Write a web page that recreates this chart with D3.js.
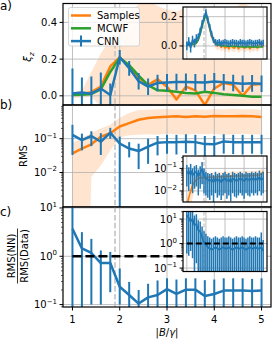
<!DOCTYPE html>
<html><head><meta charset="utf-8">
<script src="https://cdn.jsdelivr.net/npm/d3@7"></script>
<style>body{margin:0;background:#fff}svg{display:block;font-family:"DejaVu Sans",sans-serif}</style>
</head><body>
<svg width="272" height="339"></svg>
<script>
// ---------------- data ----------------
const xs = [1,1.2,1.4,1.6,1.8,2,2.2,2.4,2.6,2.8,3,3.2,3.4,3.6,3.8,4,4.2,4.4,4.6,4.8,5];
const xTicks = [1,2,3,4,5];
const xTickLabels = ["1","2","3","4","5"];
const markX = 1.9;
const legendLabels = ["Samples","MCWF","CNN"];

// panel a  (xi_z)
const aSamples   = [0.005,0.01,0.02,0.05,0.16,0.21,0.16,0.10,0.06,0.09,0.05,-0.02,0.05,0.03,-0.05,0.04,0.07,0.06,0.00,0.06,0.065];
const aSamplesLo = [-0.01,-0.01,-0.005,-0.06,-0.15,-0.2,-0.25,-0.3,-0.35,-0.3,-0.35,-0.4,-0.35,-0.4,-0.45,-0.35,-0.3,-0.35,-0.4,-0.35,-0.3];
const aSamplesHi = [0.02,0.03,0.13,0.23,0.31,0.38,0.44,0.5,0.52,0.49,0.47,0.46,0.48,0.46,0.49,0.47,0.45,0.47,0.51,0.48,0.46];
const aMcwf      = [0.004,0.006,0.01,0.035,0.13,0.208,0.167,0.11,0.058,0.03,0.027,0.022,0.016,0.013,0.022,0.016,0.008,0.004,0.0,-0.005,-0.005];
const aCnn       = [0.013,0.018,0.012,0.04,0.004,0.21,0.15,0.08,0.05,0.07,0.073,0.075,0.075,0.074,0.072,0.078,0.074,0.07,0.066,0.068,0.066];
const aCnnErr    = [0.136,0.082,0.093,0.087,0.063,0.04,0.04,0.045,0.045,0.045,0.046,0.045,0.046,0.045,0.045,0.046,0.045,0.045,0.045,0.046,0.045];
const aTicks = [0, 0.2, 0.4];
const aTickLabels = ["0.0","0.2","0.4"];

// panel b  (RMS)
const bSamples   = [0.037,0.051,0.068,0.115,0.145,0.229,0.288,0.363,0.407,0.427,0.447,0.457,0.437,0.457,0.447,0.468,0.457,0.457,0.468,0.457,0.437];
const bSamplesLo = [1e-12,1e-12,0.0074,0.016,0.045,0.11,0.126,0.13,0.135,0.13,0.14,0.135,0.13,0.14,0.135,0.14,0.13,0.135,0.14,0.135,0.13];
const bSamplesHi = [0.074,0.105,0.148,0.2,0.257,0.417,0.575,0.708,0.72,0.74,0.75,0.73,0.76,0.74,0.72,0.75,0.73,0.76,0.74,0.75,0.72];
const bCnn       = [0.129,0.091,0.120,0.081,0.151,0.072,0.051,0.043,0.058,0.076,0.079,0.079,0.081,0.079,0.069,0.068,0.083,0.079,0.079,0.079,0.079];
const bCnnLo     = [0.033,0.045,0.060,0.033,0.1,1e-5,0.028,0.0126,0.018,0.032,0.036,0.034,0.037,0.033,0.030,0.031,0.036,0.035,0.034,0.036,0.035];
const bCnnHi     = [0.257,0.141,0.166,0.145,0.209,0.115,0.079,0.071,0.1,0.12,0.13,0.13,0.135,0.13,0.12,0.12,0.135,0.13,0.13,0.13,0.13];
const bTickExp = [-1,-2];

// panel c  (RMS(NN)/RMS(Data))
const cCnn   = [3.72,1.45,1.17,0.724,0.724,0.234,0.158,0.105,0.141,0.158,0.209,0.166,0.204,0.204,0.151,0.166,0.195,0.195,0.195,0.191,0.195];
const cCnnLo = [0.01,0.01,0.1,0.1,0.18,0.1,0.01,0.01,0.01,0.01,0.01,0.01,0.01,0.01,0.01,0.01,0.01,0.01,0.01,0.01,0.01];
const cCnnHi = [15,3.16,2.29,1.32,1.23,0.56,0.295,0.2,0.27,0.316,0.35,0.33,0.35,0.35,0.32,0.33,0.35,0.35,0.35,0.34,0.35];
const cRef = 1;
const cTickExp = [1,0,-1];

// insets (finer grid)
const insX = [1.0,1.1,1.2,1.3,1.4,1.5,1.6,1.7,1.8,1.9,2.0,2.1,2.2,2.3,2.4,2.5,2.6,2.7,2.8,2.9,3.0,3.1,3.2,3.3,3.4,3.5,3.6,3.7,3.8,3.9,4.0,4.1,4.2,4.3,4.4,4.5,4.6,4.7,4.8,4.9,5.0];
const iaCnn = [0.00,0.03,-0.01,0.04,0.02,0.05,0.06,0.10,0.15,0.19,0.23,0.18,0.13,0.08,0.04,0.025,0.02,0.025,0.015,0.02,0.025,0.02,0.015,0.02,0.025,0.02,0.02,0.015,0.025,0.02,0.02,0.015,0.02,0.025,0.02,0.015,0.02,0.02,0.025,0.015,0.02];
const iaCnnErr = [0.03,0.03,0.035,0.03,0.03,0.03,0.025,0.025,0.025,0.02,0.02,0.02,0.02,0.02,0.02,0.022,0.022,0.022,0.022,0.022,0.022,0.022,0.022,0.022,0.022,0.022,0.022,0.022,0.022,0.022,0.022,0.022,0.022,0.022,0.022,0.022,0.022,0.022,0.022,0.022,0.022];
const iaMcwf = [0.005,0.006,0.008,0.01,0.013,0.02,0.04,0.08,0.13,0.18,0.21,0.17,0.12,0.07,0.04,0.02,0.01,0.005,0.003,0.002,0.0,-0.002,-0.003,0.0,-0.002,-0.004,-0.003,-0.005,-0.004,-0.006,-0.005,-0.006,-0.007,-0.005,-0.006,-0.007,-0.006,-0.008,-0.007,-0.006,-0.007];
const iaSamples = [0.006,0.004,0.01,0.012,0.01,0.022,0.045,0.085,0.14,0.19,0.215,0.17,0.115,0.065,0.035,0.015,0.0,0.01,-0.01,0.005,-0.015,0.0,-0.02,0.005,-0.01,-0.015,0.01,-0.02,-0.005,0.0,-0.015,-0.01,0.005,-0.02,-0.005,-0.01,0.0,-0.015,0.005,0.02,-0.01];
const iaSamplesHi = [0.02,0.02,0.025,0.03,0.03,0.04,0.065,0.11,0.165,0.215,0.24,0.2,0.145,0.095,0.065,0.045,0.03,0.04,0.025,0.035,0.02,0.03,0.02,0.035,0.025,0.02,0.04,0.02,0.03,0.035,0.02,0.025,0.035,0.02,0.03,0.025,0.035,0.02,0.04,0.05,0.03];
const iaSamplesLo = [-0.01,-0.012,-0.008,-0.006,-0.01,0.0,0.025,0.06,0.115,0.165,0.19,0.14,0.09,0.035,0.005,-0.015,-0.03,-0.02,-0.04,-0.025,-0.045,-0.03,-0.05,-0.025,-0.04,-0.045,-0.02,-0.05,-0.035,-0.03,-0.045,-0.04,-0.025,-0.05,-0.035,-0.04,-0.03,-0.045,-0.025,-0.01,-0.04];
const iaTicks = [0, 0.2];
const iaTickLabels = ["0.0","0.2"];

// inset b, stored as log10 values
const ibCnnLog10 = [-1.15,-1.25,-1.1,-1.3,-1.2,-1.15,-1.35,-1.2,-1.05,-1.3,-1.45,-1.5,-1.55,-1.5,-1.6,-1.45,-1.55,-1.5,-1.6,-1.5,-1.45,-1.55,-1.5,-1.6,-1.45,-1.5,-1.55,-1.5,-1.45,-1.5,-1.55,-1.45,-1.5,-1.5,-1.45,-1.5,-1.45,-1.5,-1.4,-1.5,-1.45];
const ibCnnHiLog10 = [-0.85,-0.95,-0.8,-1.0,-0.9,-0.85,-1.05,-0.9,-0.72,-1.0,-1.15,-1.2,-1.25,-1.2,-1.3,-1.15,-1.25,-1.2,-1.3,-1.2,-1.15,-1.25,-1.2,-1.3,-1.15,-1.2,-1.25,-1.2,-1.15,-1.2,-1.25,-1.15,-1.2,-1.2,-1.15,-1.2,-1.15,-1.2,-1.1,-1.2,-1.15];
const ibCnnLoLog10 = [-1.8,-2.0,-1.7,-2.1,-1.9,-1.8,-2.2,-1.9,-1.7,-2.1,-2.2,-2.3,-2.4,-2.2,-2.5,-2.1,-2.3,-2.2,-2.4,-2.2,-2.1,-2.35,-2.2,-2.45,-2.1,-2.25,-2.3,-2.2,-2.1,-2.2,-2.35,-2.1,-2.2,-2.25,-2.1,-2.2,-2.1,-2.2,-2.0,-2.2,-2.1];
const ibSamplesLog10 = [-2.7,-2.3,-2.0,-1.75,-1.6,-1.5,-1.45,-1.42,-1.4,-1.42,-1.4,-1.4,-1.38,-1.4,-1.38,-1.37,-1.38,-1.36,-1.37,-1.35,-1.36,-1.35,-1.36,-1.34,-1.35,-1.33,-1.35,-1.33,-1.34,-1.32,-1.33,-1.32,-1.33,-1.31,-1.32,-1.3,-1.31,-1.3,-1.28,-1.25,-1.15];
const ibSamplesHiLog10 = [-2.3,-1.95,-1.7,-1.5,-1.38,-1.3,-1.25,-1.22,-1.2,-1.22,-1.2,-1.2,-1.18,-1.2,-1.18,-1.17,-1.18,-1.16,-1.17,-1.15,-1.16,-1.15,-1.16,-1.14,-1.15,-1.13,-1.15,-1.13,-1.14,-1.12,-1.13,-1.12,-1.13,-1.11,-1.12,-1.1,-1.11,-1.1,-1.08,-1.05,-0.95];
const ibSamplesLoLog10 = [-4,-3.5,-3,-2.3,-2.0,-1.85,-1.75,-1.7,-1.68,-1.7,-1.68,-1.68,-1.65,-1.68,-1.65,-1.64,-1.65,-1.63,-1.64,-1.62,-1.63,-1.62,-1.63,-1.61,-1.62,-1.6,-1.62,-1.6,-1.61,-1.59,-1.6,-1.59,-1.6,-1.58,-1.59,-1.57,-1.58,-1.57,-1.55,-1.52,-1.42];
const ibTickExp = [-1,-2];

// inset c, stored as log10 values
const icCnnLog10 = [1.15,1.05,0.9,1.0,0.75,0.8,0.55,0.5,0.25,0.05,-0.05,-0.15,-0.2,-0.25,-0.2,-0.15,-0.2,-0.25,-0.2,-0.15,-0.2,-0.2,-0.15,-0.2,-0.25,-0.2,-0.15,-0.2,-0.2,-0.15,-0.2,-0.25,-0.2,-0.15,-0.2,-0.2,-0.15,-0.2,-0.2,-0.15,-0.3];
const icCnnHiLog10 = [1.5,1.4,1.3,1.35,1.15,1.2,0.95,0.9,0.7,0.5,0.4,0.3,0.25,0.2,0.25,0.3,0.25,0.2,0.25,0.3,0.25,0.25,0.3,0.25,0.2,0.25,0.3,0.25,0.25,0.3,0.25,0.2,0.25,0.3,0.25,0.25,0.3,0.25,0.25,0.45,0.15];
const icCnnLoLog10 = [-0.4,-0.5,-0.3,-0.6,-2,-0.8,-2,-2,-2,-2,-2,-2,-2,-2,-2,-2,-2,-2,-2,-2,-2,-2,-2,-2,-2,-2,-2,-2,-2,-2,-2,-2,-2,-2,-2,-2,-2,-2,-2,-2,-2];
const icRefLog10 = 0;
const icTickExp = [1,0,-1];

// ---------------- drawing ----------------
const C = {blue:"#1f77b4", orange:"#ff7f0e", green:"#2ca02c", grid:"#b0b0b0", mark:"#c0c0c0"};
const svg = d3.select("svg");
svg.append("rect").attr("width",272).attr("height",339).attr("fill","#fff");
const defs = svg.append("defs");
let cid = 0;
function clip(b){
  const id = "cp"+(cid++);
  defs.append("clipPath").attr("id",id).append("rect")
    .attr("x",b.x0).attr("y",b.y0).attr("width",b.x1-b.x0).attr("height",b.y1-b.y0);
  return `url(#${id})`;
}
function supText(t, n){
  t.text("10");
  t.append("tspan").attr("dy",-4.5).attr("font-size",7).text(n<0 ? "\u2212"+(-n) : String(n));
}

const L = 63, R = 271;
const x = d3.scaleLinear().domain([0.8,5.2]).range([L,R]);
const boxA = {x0:L,x1:R,y0:3.5,y1:105};
const boxB = {x0:L,x1:R,y0:105,y1:207};
const boxC = {x0:L,x1:R,y0:207,y1:307};
const yA = d3.scaleLinear().domain([-0.05,0.503]).range([boxA.y1,boxA.y0]);
const yB = d3.scaleLog().domain([Math.pow(10,-3.02),Math.pow(10,-0.005)]).range([boxB.y1,boxB.y0]);
const yC = d3.scaleLog().domain([Math.pow(10,-1.05),Math.pow(10,1.02)]).range([boxC.y1,boxC.y0]);

const xi = d3.scaleLinear().domain([0.8,5.2]).range([183,267]);
const boxIA = {x0:183,x1:267,y0:7,y1:59};
const boxIB = {x0:183,x1:267,y0:156,y1:202};
const boxIC = {x0:183,x1:267,y0:211.5,y1:271.5};
const yIA = d3.scaleLinear().domain([-0.089,0.266]).range([boxIA.y1,boxIA.y0]);
const yIB = d3.scaleLinear().domain([-2.49,-0.45]).range([boxIB.y1,boxIB.y0]);   // log10 units
const yIC = d3.scaleLinear().domain([-1.14,1.31]).range([boxIC.y1,boxIC.y0]);    // log10 units

function panel(o){
  const b = o.box, g = svg.append("g");
  if (o.bg) g.append("rect").attr("x",b.x0).attr("y",b.y0).attr("width",b.x1-b.x0).attr("height",b.y1-b.y0).attr("fill","#fff");
  const inner = g.append("g").attr("clip-path",clip(b));
  const X = o.x, Y = o.y;
  // band
  if (o.band){
    const bd = o.band;
    inner.append("path").datum(bd.xs)
      .attr("d", d3.area().x(d=>X(d)).y0((d,i)=>Y(bd.lo[i])).y1((d,i)=>Y(bd.hi[i])))
      .attr("fill",C.orange).attr("fill-opacity",0.2).attr("stroke","none");
  }
  // grid
  inner.selectAll(null).data(xTicks).join("line")
    .attr("x1",d=>X(d)).attr("x2",d=>X(d)).attr("y1",b.y0).attr("y2",b.y1)
    .attr("stroke",C.grid).attr("stroke-width",0.8);
  inner.selectAll(null).data(o.gridY).join("line")
    .attr("x1",b.x0).attr("x2",b.x1).attr("y1",d=>Y(d)).attr("y2",d=>Y(d))
    .attr("stroke",C.grid).attr("stroke-width",0.8);
  // marker line
  inner.append("line").attr("x1",X(markX)).attr("x2",X(markX)).attr("y1",b.y0).attr("y2",b.y1)
    .attr("stroke",C.mark).attr("stroke-width",o.small?1.2:1.5).attr("stroke-dasharray",o.small?"4,2":"5.5,2.4");
  // lines
  (o.lines||[]).forEach(ln=>{
    inner.append("path").datum(ln.xs)
      .attr("d", d3.line().x(d=>X(d)).y((d,i)=>Y(ln.ys[i])))
      .attr("fill","none").attr("stroke",ln.color).attr("stroke-width",ln.w)
      .attr("stroke-linejoin","round").attr("stroke-dasharray",ln.dash||null);
  });
  // errorbars
  if (o.err){
    const e = o.err;
    inner.selectAll(null).data(e.xs).join("line")
      .attr("x1",d=>X(d)).attr("x2",d=>X(d))
      .attr("y1",(d,i)=>Y(e.lo[i])).attr("y2",(d,i)=>Y(e.hi[i]))
      .attr("stroke",C.blue).attr("stroke-width",e.bw);
    inner.append("path").datum(e.xs)
      .attr("d", d3.line().x(d=>X(d)).y((d,i)=>Y(e.ys[i])))
      .attr("fill","none").attr("stroke",C.blue).attr("stroke-width",e.w).attr("stroke-linejoin","round");
  }
  if (o.ref){
    inner.append("line").attr("x1",X(o.ref.x0)).attr("x2",X(o.ref.x1))
      .attr("y1",Y(o.ref.y)).attr("y2",Y(o.ref.y))
      .attr("stroke","#000").attr("stroke-width",o.ref.w).attr("stroke-dasharray",o.ref.dash);
  }
  // y ticks
  o.yTicks.forEach((t,i)=>{
    const yy = Y(t);
    g.append("line").attr("x1",b.x0-3.5).attr("x2",b.x0).attr("y1",yy).attr("y2",yy)
      .attr("stroke","#000").attr("stroke-width",1);
    const tx = g.append("text").attr("x",b.x0-6).attr("y",yy).attr("dy","0.35em")
      .attr("text-anchor","end").attr("font-size",10).attr("fill","#000");
    if (o.supExp) supText(tx, o.supExp[i]); else tx.text(o.yLabels[i]);
  });
  (o.minor||[]).forEach(t=>{
    const yy = Y(t);
    if (yy < b.y0-0.1 || yy > b.y1+0.1) return;
    g.append("line").attr("x1",b.x0-2).attr("x2",b.x0).attr("y1",yy).attr("y2",yy)
      .attr("stroke","#000").attr("stroke-width",0.6);
  });
  g.append("rect").attr("x",b.x0).attr("y",b.y0).attr("width",b.x1-b.x0).attr("height",b.y1-b.y0)
    .attr("fill","none").attr("stroke","#000").attr("stroke-width",1.2);
  return g;
}
function minorLog(eMin,eMax,asLog){
  const out=[];
  for(let e=eMin;e<=eMax;e++) for(let k=2;k<=9;k++){ const v=k*Math.pow(10,e); out.push(asLog?Math.log10(v):v); }
  return out;
}

// ---- panel a ----
panel({box:boxA, x:x, y:yA, gridY:aTicks, yTicks:aTicks, yLabels:aTickLabels,
  band:{xs:xs, lo:aSamplesLo, hi:aSamplesHi},
  lines:[{xs:xs, ys:aSamples, color:C.orange, w:2.5},{xs:xs, ys:aMcwf, color:C.green, w:2.5}],
  err:{xs:xs, ys:aCnn, lo:aCnn.map((v,i)=>v-aCnnErr[i]), hi:aCnn.map((v,i)=>v+aCnnErr[i]), w:2.5, bw:2}
});
// legend
const lg = svg.append("g");
lg.append("rect").attr("x",68.5).attr("y",7.5).attr("width",71).attr("height",38.5).attr("rx",2)
  .attr("fill","#fff").attr("fill-opacity",0.8).attr("stroke","#cccccc").attr("stroke-width",0.8);
const legColors = [C.orange, C.green, C.blue];
legendLabels.forEach((lab,i)=>{
  const yy = 15.5 + i*12.8;
  lg.append("line").attr("x1",71).attr("x2",91).attr("y1",yy).attr("y2",yy).attr("stroke",legColors[i]).attr("stroke-width",2.5);
  if (i===2) lg.append("line").attr("x1",81).attr("x2",81).attr("y1",yy-5.5).attr("y2",yy+5.5).attr("stroke",C.blue).attr("stroke-width",2);
  lg.append("text").attr("x",97).attr("y",yy).attr("dy","0.35em").attr("font-size",10).text(lab);
});
// inset a
panel({box:boxIA, x:xi, y:yIA, bg:true, small:true, gridY:iaTicks, yTicks:iaTicks, yLabels:iaTickLabels,
  band:{xs:insX, lo:iaSamplesLo, hi:iaSamplesHi},
  lines:[{xs:insX, ys:iaSamples, color:C.orange, w:1.6},{xs:insX, ys:iaMcwf, color:C.green, w:1.6}],
  err:{xs:insX, ys:iaCnn, lo:iaCnn.map((v,i)=>v-iaCnnErr[i]), hi:iaCnn.map((v,i)=>v+iaCnnErr[i]), w:1.8, bw:1.5}
});

// ---- panel b ----
panel({box:boxB, x:x, y:yB, gridY:bTickExp.map(e=>Math.pow(10,e)), yTicks:bTickExp.map(e=>Math.pow(10,e)), supExp:bTickExp,
  minor:minorLog(-3,-1,false),
  band:{xs:xs, lo:bSamplesLo, hi:bSamplesHi},
  lines:[{xs:xs, ys:bSamples, color:C.orange, w:2.5}],
  err:{xs:xs, ys:bCnn, lo:bCnnLo, hi:bCnnHi, w:2.5, bw:2}
});
panel({box:boxIB, x:xi, y:yIB, bg:true, small:true, gridY:ibTickExp, yTicks:ibTickExp, supExp:ibTickExp,
  minor:minorLog(-3,-1,true),
  band:{xs:insX, lo:ibSamplesLoLog10, hi:ibSamplesHiLog10},
  lines:[{xs:insX, ys:ibSamplesLog10, color:C.orange, w:1.6}],
  err:{xs:insX, ys:ibCnnLog10, lo:ibCnnLoLog10, hi:ibCnnHiLog10, w:1.8, bw:1.5}
});

// ---- panel c ----
panel({box:boxC, x:x, y:yC, gridY:cTickExp.map(e=>Math.pow(10,e)), yTicks:cTickExp.map(e=>Math.pow(10,e)), supExp:cTickExp,
  minor:minorLog(-2,1,false),
  ref:{x0:1, x1:5, y:cRef, w:2.5, dash:"9,4"},
  err:{xs:xs, ys:cCnn, lo:cCnnLo, hi:cCnnHi, w:2.5, bw:2}
});
panel({box:boxIC, x:xi, y:yIC, bg:true, small:true, gridY:icTickExp, yTicks:icTickExp, supExp:icTickExp,
  minor:minorLog(-2,1,true),
  ref:{x0:1, x1:5, y:icRefLog10, w:2, dash:"6,3"},
  err:{xs:insX, ys:icCnnLog10, lo:icCnnLoLog10, hi:icCnnHiLog10, w:1.8, bw:1.5}
});

// x axis ticks (bottom)
const xa = svg.append("g");
xTicks.forEach((t,i)=>{
  xa.append("line").attr("x1",x(t)).attr("x2",x(t)).attr("y1",boxC.y1).attr("y2",boxC.y1+3.5).attr("stroke","#000").attr("stroke-width",1);
  xa.append("text").attr("x",x(t)).attr("y",322.5).attr("text-anchor","middle").attr("font-size",10).text(xTickLabels[i]);
});
// x label |B/γ|
const xl = svg.append("text").attr("x",(L+R)/2).attr("y",335.5).attr("text-anchor","middle").attr("font-size",10);
xl.append("tspan").text("|");
xl.append("tspan").attr("font-style","italic").text("B");
xl.append("tspan").text("/");
xl.append("tspan").attr("font-style","italic").text("\u03b3");
xl.append("tspan").text("|");

// y labels
const ylA = svg.append("text").attr("transform","translate(31,57) rotate(-90)").attr("text-anchor","middle").attr("font-size",10);
ylA.append("tspan").attr("font-style","italic").text("\u03be");
ylA.append("tspan").attr("font-style","italic").attr("font-size",7).attr("dy",2.5).text("z");
svg.append("text").attr("transform","translate(27,156) rotate(-90)").attr("text-anchor","middle").attr("font-size",10).text("RMS");
const fr = svg.append("g").attr("transform","translate(17.5,256) rotate(-90)");
fr.append("text").attr("x",0).attr("y",-2.5).attr("text-anchor","middle").attr("font-size",10).text("RMS(NN)");
fr.append("line").attr("x1",-27.5).attr("x2",27.5).attr("y1",0).attr("y2",0).attr("stroke","#000").attr("stroke-width",0.8);
fr.append("text").attr("x",0).attr("y",10).attr("text-anchor","middle").attr("font-size",10).text("RMS(Data)");

// panel letters
[["a)",9.5],["b)",109],["c)",216]].forEach(([t,yy])=>{
  svg.append("text").attr("x",0).attr("y",yy).attr("font-size",12).text(t);
});
</script>
</body></html>
